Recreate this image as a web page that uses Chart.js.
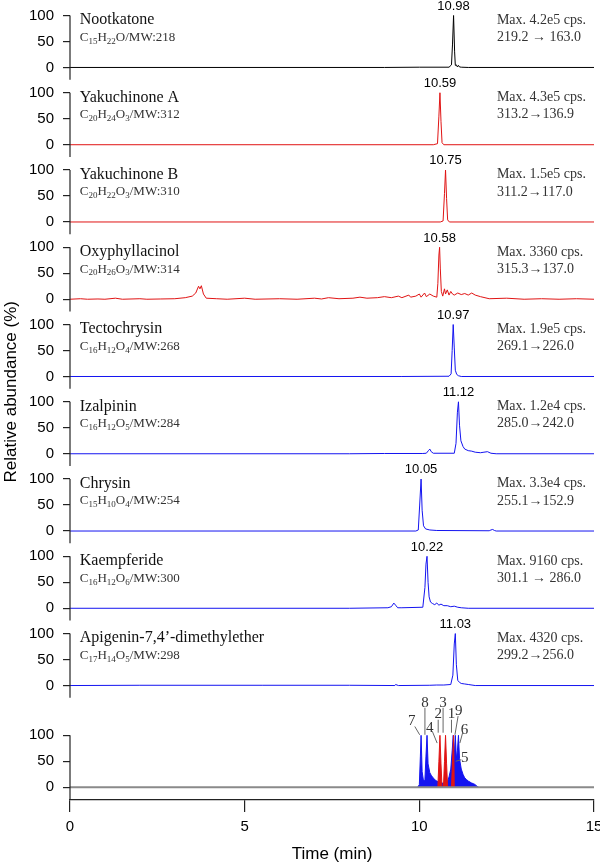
<!DOCTYPE html>
<html>
<head>
<meta charset="utf-8">
<script src="https://cdn.jsdelivr.net/npm/chart.js@4/dist/chart.umd.min.js"></script>
<style>
  html, body { margin: 0; padding: 0; background: #fff; }
</style>
</head>
<body>
<canvas id="myChart" width="600" height="865"></canvas>
<script>
// chromatogram traces, time (min) / relative abundance (%)
const nootkatoneTime = [0, 9.0, 10.0, 10.85, 10.92, 10.95, 10.98, 11.01, 11.03, 11.06, 11.09, 11.12, 11.15, 11.2, 11.4, 15];
const nootkatoneAbund = [0, 0, 0.5, 0.5, 5, 45, 100, 30, 4, 5, 1, 4, 1, 0.5, 0, 0];

const yakuchinoneATime = [0, 10.4, 10.52, 10.56, 10.59, 10.62, 10.65, 10.7, 15];
const yakuchinoneAAbund = [0, 0, 2, 55, 100, 45, 4, 0, 0];

const yakuchinoneBTime = [0, 10.6, 10.68, 10.72, 10.75, 10.78, 10.81, 10.86, 15];
const yakuchinoneBAbund = [0, 0, 2, 55, 100, 45, 4, 0, 0];

const oxyphyllacinolTime = [0, 0.3, 0.5, 0.8, 1.0, 1.3, 1.5, 2.0, 2.2, 2.6, 3.0, 3.3, 3.5, 3.6, 3.68, 3.72, 3.76, 3.82, 3.9, 4.2, 4.5, 5.0, 5.3, 6.0, 6.5, 7.0, 7.2, 7.4, 7.7, 8.1, 8.3, 8.5, 8.8, 9.0, 9.2, 9.4, 9.5, 9.7, 9.75, 9.9, 10.0, 10.05, 10.15, 10.2, 10.3, 10.4, 10.5, 10.53, 10.56, 10.58, 10.6, 10.63, 10.67, 10.72, 10.75, 10.8, 10.85, 10.9, 10.95, 11.0, 11.1, 11.2, 11.3, 11.4, 11.5, 11.6, 11.75, 12.0, 12.5, 13.0, 13.5, 14.0, 14.5, 15];
const oxyphyllacinolAbund = [0, 1, 0, 0.5, 0, 2, 0, 1, 0, 0.5, 1, 3, 6, 12, 25, 20, 26, 10, 2, 1, 0, 2, 0, 1, 0, 2, 0.5, 3, 1, 2, 4, 2, 3, 5, 3, 6, 3, 8, 4, 6, 10, 4, 12, 5, 10, 6, 4, 30, 85, 100, 60, 15, 6, 20, 10, 18, 8, 15, 10, 8, 12, 9, 11, 8, 12, 8, 5, 1, 2, 0, 1, 0, 1, 0];

const tectochrysinTime = [0, 9.5, 10.85, 10.91, 10.94, 10.97, 11.0, 11.03, 11.07, 11.12, 11.2, 15];
const tectochrysinAbund = [0, 0, 0.5, 5, 50, 100, 55, 12, 4, 1.5, 0, 0];

const izalpininTime = [0, 8, 9.0, 10.1, 10.2, 10.26, 10.3, 10.34, 10.4, 11.0, 11.05, 11.09, 11.12, 11.15, 11.19, 11.25, 11.3, 11.4, 11.5, 11.6, 11.75, 11.85, 11.95, 12.05, 12.2, 15];
const izalpininAbund = [0, 0, 0.5, 0.5, 1, 6, 9, 4, 1, 1, 20, 80, 100, 55, 25, 14, 9, 6, 5, 3, 2, 3, 4, 1, 0, 0];

const chrysinTime = [0, 9.9, 9.97, 10.01, 10.05, 10.08, 10.12, 10.18, 10.3, 10.5, 12.0, 12.05, 12.1, 12.15, 12.2, 15];
const chrysinAbund = [0, 0, 2, 50, 100, 40, 10, 4, 2, 1, 0.5, 2, 3, 1, 0, 0];

const kaempferideTime = [0, 8, 9.1, 9.2, 9.27, 9.32, 9.38, 9.5, 10.1, 10.16, 10.19, 10.22, 10.25, 10.28, 10.32, 10.38, 10.44, 10.5, 10.56, 10.62, 10.7, 10.8, 10.9, 11.0, 11.1, 11.2, 11.4, 15];
const kaempferideAbund = [0, 0, 1, 3, 10, 6, 1, 1, 2, 40, 85, 100, 50, 22, 12, 9, 7, 10, 6, 8, 5, 5, 3, 4, 2, 1, 0, 0];

const apigeninTime = [0, 2, 5.5, 8, 9.3, 9.32, 9.4, 10.3, 10.5, 10.7, 10.9, 10.96, 11.0, 11.03, 11.06, 11.1, 11.15, 11.2, 11.3, 11.4, 11.6, 15];
const apigeninAbund = [0, 0.5, 0.5, 0.5, 0, 2, 0, 0.5, 1, 1, 2, 20, 80, 100, 40, 10, 6, 4, 3, 2, 0, 0];

// overlaid (bottom) panel
const mixBlueTime = [9.95, 10.0, 10.03, 10.05, 10.08, 10.12, 10.16, 10.19, 10.22, 10.25, 10.3, 10.35, 10.4, 10.45, 10.5, 10.55, 10.65, 10.7, 10.8, 10.85, 10.9, 10.94, 10.97, 11.0, 11.03, 11.06, 11.09, 11.12, 11.15, 11.2, 11.25, 11.3, 11.35, 11.4, 11.45, 11.5, 11.55, 11.6, 11.65, 11.7];
const mixBlueAbund = [0, 5, 60, 100, 30, 12, 15, 60, 100, 45, 28, 22, 18, 14, 12, 10, 8, 8, 10, 20, 35, 70, 100, 60, 100, 55, 70, 100, 55, 35, 25, 18, 15, 12, 10, 8, 7, 5, 2, 0];
const mixRedTime = [10.53, 10.56, 10.59, 10.62, 10.65, 10.69, 10.72, 10.75, 10.78, 10.81, 10.92, 10.95, 10.98, 11.0];
const mixRedAbund = [0, 50, 100, 45, 0, 0, 50, 100, 45, 0, 0, 50, 100, 0];
const baselineTime = [0, 15];
const baselineAbund = [0, 0];

const compounds = ["Nootkatone", "Yakuchinone A", "Yakuchinone B", "Oxyphyllacinol", "Tectochrysin", "Izalpinin", "Chrysin", "Kaempferide", "Apigenin-7,4’-dimethylether"];
const formulas = ["C15H22O/MW:218", "C20H24O3/MW:312", "C20H22O3/MW:310", "C20H26O3/MW:314", "C16H12O4/MW:268", "C16H12O5/MW:284", "C15H10O4/MW:254", "C16H12O6/MW:300", "C17H14O5/MW:298"];
const maxSignals = ["Max. 4.2e5 cps.", "Max. 4.3e5 cps.", "Max. 1.5e5 cps.", "Max. 3360 cps.", "Max. 1.9e5 cps.", "Max. 1.2e4 cps.", "Max. 3.3e4 cps.", "Max. 9160 cps.", "Max. 4320 cps."];
const transitions = ["219.2 → 163.0", "313.2→136.9", "311.2→117.0", "315.3→137.0", "269.1→226.0", "285.0→242.0", "255.1→152.9", "301.1 → 286.0", "299.2→256.0"];
const retentionTimes = [10.98, 10.59, 10.75, 10.58, 10.97, 11.12, 10.05, 10.22, 11.03];
const peakNumbers = ["7", "8", "4", "2", "3", "1", "9", "6", "5"];
const yTicks = [0, 50, 100];
const xTicks = [0, 5, 10, 15];

// where the peak numbers and their leader lines sit in the bottom panel (time, level)
const numberAt = [[9.78, 127], [10.16, 162], [10.30, 114], [10.54, 140], [10.68, 162], [10.92, 140], [11.13, 146], [11.29, 111], [11.30, 57]];
const leaderFrom = [[9.87, 117], [10.16, 153], [10.37, 108], [10.54, 130], [10.68, 153], [10.92, 130], [11.11, 137], [11.24, 105], [11.20, 53]];
const leaderTo = [[10.01, 101], [10.16, 101], [10.51, 85], [10.54, 105], [10.68, 105], [10.92, 105], [11.02, 101], [11.16, 85], [11.04, 50]];

const SANS = "'Liberation Sans', Arial, sans-serif";
const SERIF = "'Liberation Serif', 'Times New Roman', serif";
const BLACK = "#000000", RED = "#e01414", BLUE = "#1414f0";
const traceColors = [BLACK, RED, RED, RED, BLUE, BLUE, BLUE, BLUE, BLUE];

const traces = [
  [nootkatoneTime, nootkatoneAbund], [yakuchinoneATime, yakuchinoneAAbund], [yakuchinoneBTime, yakuchinoneBAbund],
  [oxyphyllacinolTime, oxyphyllacinolAbund], [tectochrysinTime, tectochrysinAbund], [izalpininTime, izalpininAbund],
  [chrysinTime, chrysinAbund], [kaempferideTime, kaempferideAbund], [apigeninTime, apigeninAbund],
];
const points = (t, v) => t.map((x, i) => ({ x, y: v[i] }));

const PANEL_MIN = -25.6, PANEL_MAX = 123.1; // panels 1-9
const MIX_MIN = -24.5, MIX_MAX = 170.2;     // bottom panel
const nPanels = traces.length + 1;

const datasets = traces.map(([t, v], i) => ({
  data: points(t, v),
  yAxisID: "y" + i,
  borderColor: traceColors[i],
  borderWidth: 1,
  pointRadius: 0,
  fill: false,
}));
const mixAxis = "y" + traces.length;
datasets.push(
  { data: points(baselineTime, baselineAbund), yAxisID: mixAxis, borderColor: "#8a8a8a", borderWidth: 2, pointRadius: 0, fill: false, order: 0 },
  { data: points(mixRedTime, mixRedAbund), yAxisID: mixAxis, borderColor: RED, backgroundColor: RED, borderWidth: 1, pointRadius: 0, fill: "origin", order: 1 },
  { data: points(mixBlueTime, mixBlueAbund), yAxisID: mixAxis, borderColor: BLUE, backgroundColor: BLUE, borderWidth: 1, pointRadius: 0, fill: "origin", order: 2 }
);

const scales = {
  x: {
    type: "linear", position: "bottom", min: 0, max: 15,
    afterBuildTicks: (s) => { s.ticks = xTicks.map((value) => ({ value })); },
    ticks: { font: { family: SANS, size: 15 }, color: "#000", padding: 6, maxRotation: 0, autoSkip: false },
    grid: { drawOnChartArea: false, tickLength: 12, color: "#222", lineWidth: 1.2 },
    border: { color: "#222", width: 1.2 },
    title: { display: true, text: "Time (min)", font: { family: SANS, size: 17 }, color: "#000", padding: { top: 0, bottom: 0 } },
    afterFit: (s) => { s.height = 65; s.paddingLeft = 0; s.paddingRight = 0; },
  },
};
for (let i = 0; i < nPanels; i++) {
  const mix = i === nPanels - 1;
  const min = mix ? MIX_MIN : PANEL_MIN;
  const max = mix ? MIX_MAX : PANEL_MAX;
  scales["y" + i] = {
    type: "linear", position: "left", stack: "panels", stackWeight: max - min, weight: nPanels - i,
    min, max,
    afterBuildTicks: (s) => { s.ticks = yTicks.map((value) => ({ value })); },
    ticks: { font: { family: SANS, size: 15 }, color: "#000", padding: 9, autoSkip: false },
    grid: { drawOnChartArea: false, tickLength: 7, color: "#222", lineWidth: 1.2 },
    border: { display: false },
    afterFit: (s) => { s.width = 70; s.paddingTop = 0; s.paddingBottom = 0; },
  };
}

function drawFormula(ctx, text, x, y) {
  const [f, rest] = text.split("/");
  let cx = x;
  for (const part of f.match(/[A-Z][a-z]?\d*/g)) {
    const m = part.match(/([A-Z][a-z]?)(\d*)/);
    ctx.font = "13px " + SERIF;
    ctx.fillText(m[1], cx, y);
    cx += ctx.measureText(m[1]).width;
    if (m[2]) {
      ctx.font = "9px " + SERIF;
      ctx.fillText(m[2], cx, y + 4);
      cx += ctx.measureText(m[2]).width;
    }
  }
  ctx.font = "13px " + SERIF;
  ctx.fillText("/" + rest, cx, y);
}

const decorations = {
  id: "decorations",
  afterDraw(chart) {
    const { ctx, chartArea, scales: sc } = chart;
    const x = sc.x;
    ctx.save();
    // y axis segments, one per panel
    ctx.strokeStyle = "#222";
    ctx.lineWidth = 1.2;
    for (let i = 0; i < nPanels; i++) {
      const y = sc["y" + i];
      const bottom = i === nPanels - 1 ? y.bottom : y.getPixelForValue(y.min + 2);
      ctx.beginPath();
      ctx.moveTo(chartArea.left, y.getPixelForValue(100));
      ctx.lineTo(chartArea.left, bottom);
      ctx.stroke();
    }
    // panel texts
    ctx.textBaseline = "middle";
    traces.forEach((_, i) => {
      const y = sc["y" + i];
      ctx.fillStyle = "#000";
      ctx.textAlign = "center";
      ctx.font = "13px " + SANS;
      ctx.fillText(retentionTimes[i].toFixed(2), x.getPixelForValue(retentionTimes[i]), y.getPixelForValue(118));
      ctx.textAlign = "left";
      ctx.fillStyle = "#111";
      ctx.font = "16px " + SERIF;
      ctx.fillText(compounds[i], x.getPixelForValue(0.28), y.getPixelForValue(91));
      ctx.fillStyle = "#333";
      drawFormula(ctx, formulas[i], x.getPixelForValue(0.28), y.getPixelForValue(58));
      ctx.font = "14px " + SERIF;
      ctx.fillText(maxSignals[i], x.getPixelForValue(12.22), y.getPixelForValue(91));
      ctx.fillText(transitions[i], x.getPixelForValue(12.22), y.getPixelForValue(58));
    });
    // peak numbers in the overlaid panel
    const ym = sc[mixAxis];
    ctx.strokeStyle = "#666";
    ctx.lineWidth = 1;
    ctx.fillStyle = "#333";
    ctx.font = "15px " + SERIF;
    ctx.textAlign = "center";
    peakNumbers.forEach((n, i) => {
      ctx.beginPath();
      ctx.moveTo(x.getPixelForValue(leaderFrom[i][0]), ym.getPixelForValue(leaderFrom[i][1]));
      ctx.lineTo(x.getPixelForValue(leaderTo[i][0]), ym.getPixelForValue(leaderTo[i][1]));
      ctx.stroke();
      ctx.fillText(n, x.getPixelForValue(numberAt[i][0]), ym.getPixelForValue(numberAt[i][1]));
    });
    // shared y title
    ctx.fillStyle = "#000";
    ctx.font = "17px " + SANS;
    ctx.translate(11, (chartArea.top + chartArea.bottom) / 2 - 10);
    ctx.rotate(-Math.PI / 2);
    ctx.fillText("Relative abundance (%)", 0, 0);
    ctx.restore();
  },
};

new Chart(document.getElementById("myChart").getContext("2d"), {
  type: "line",
  data: { datasets },
  options: {
    responsive: false,
    animation: false,
    layout: { padding: { top: 3.5, right: 6, left: 0, bottom: 0 } },
    plugins: { legend: { display: false }, tooltip: { enabled: false } },
    scales,
  },
  plugins: [decorations],
});
</script>
</body>
</html>
